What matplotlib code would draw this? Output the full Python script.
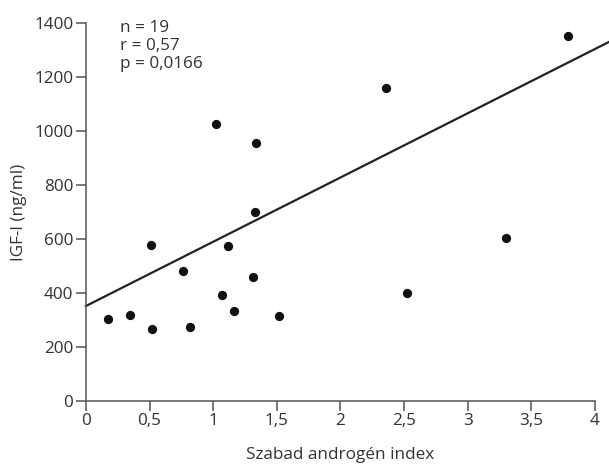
import matplotlib
matplotlib.use("Agg")
import matplotlib.pyplot as plt
import numpy as np

# Data
sai = [0.17, 0.35, 0.51, 0.52, 0.76, 0.82, 1.07, 1.12, 1.16, 1.31, 1.52,
       1.02, 1.34, 1.33, 2.36, 3.79, 3.30, 2.52]
igf = [304, 317, 578, 265, 482, 272, 392, 574, 331, 460, 314,
       1027, 957, 699, 1160, 1354, 605, 398]
line_x = [0.0, 4.11]
intercept = 351
slope = 238.5

xticks = [0, 0.5, 1, 1.5, 2, 2.5, 3, 3.5, 4]
xticklabels = ["0", "0,5", "1", "1,5", "2", "2,5", "3", "3,5", "4"]
yticks = [0, 200, 400, 600, 800, 1000, 1200, 1400]
stats_text = "n = 19\nr = 0,57\np = 0,0166"

plt.rcParams['font.family'] = ['Open Sans', 'DejaVu Sans']
txt = '#333333'
fs = 12.3
fig = plt.figure(figsize=(6.09, 4.68), dpi=100)
ax = fig.add_axes([0.141, 0.144, 0.836, 0.806])

ax.scatter(sai, igf, s=32, color='#111111', zorder=3, clip_on=False)
lx = np.array(line_x)
ax.plot(lx, intercept + slope * lx, color='#222222', lw=1.6, clip_on=False, zorder=2)

ax.set_xlim(0, 4)
ax.set_ylim(0, 1400)
ax.set_xticks(xticks)
ax.set_xticklabels(xticklabels)
ax.set_yticks(yticks)
for s in ['top', 'right']:
    ax.spines[s].set_visible(False)
for s in ['left', 'bottom']:
    ax.spines[s].set_color('#555555')
    ax.spines[s].set_linewidth(1.1)
ax.tick_params(direction='out', length=7, width=1.1, color='#555555',
               labelsize=fs, labelcolor=txt, pad=2)
ax.set_xlabel("Szabad androgén index", fontsize=fs, color=txt, labelpad=13)
ax.set_ylabel("IGF-I (ng/ml)", fontsize=fs, color=txt, labelpad=5)
ax.text(0.068, 1.01, stats_text, transform=ax.transAxes, ha='left', va='top',
        fontsize=fs, color=txt, linespacing=1.2)

fig.savefig("out.png", dpi=100)
